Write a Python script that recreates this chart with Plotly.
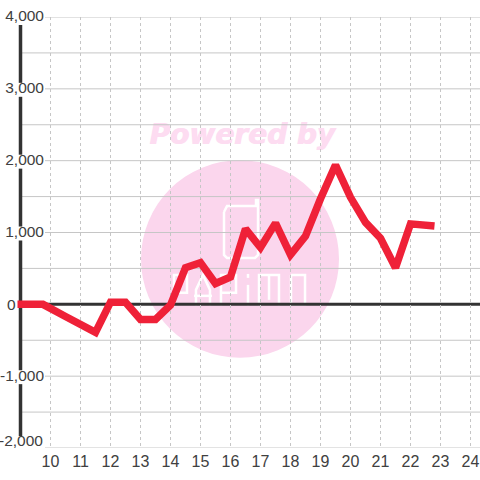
import plotly.graph_objects as go

HOURS = [8.9, 9.75, 10.5, 11.5, 12, 12.5, 13, 13.5, 14, 14.5, 15, 15.5, 16, 16.5, 17, 17.5, 18, 18.5,
         19, 19.5, 20, 20.5, 21, 21.5, 22, 22.5, 22.8]
VALUES = [0, 0, -170, -390, 30, 30, -210, -210, -10, 510, 580, 290, 380, 1050, 790, 1130, 690, 950,
          1470, 1940, 1490, 1140, 920, 510, 1120, 1100, 1090]
X_TICKS = list(range(10, 25))
Y_MAJOR = [4000, 3000, 2000, 1000, 0, -1000, -2000]
Y_TICKS = [4000, 3500, 3000, 2500, 2000, 1500, 1000, 500, 0, -500, -1000, -1500, -2000]
Y_TEXT = ["4,000", "", "3,000", "", "2,000", "", "1,000", "", "", "", "-1,000", "", ""]

W, H, L, T, B = 480, 480, 10, 16.5, 31.5
PW, PH = W - L, H - T - B
PINK = "#fbd6ed"
DARK = "#333333"
TEXT = "#404040"
GRID = "#c6c6c6"


def px(x):
    return (x - L) / PW


def py(y):
    return (H - B - y) / PH


def poly(points):
    return "M" + " L".join(f"{px(a):.4f},{py(b):.4f}" for a, b in points)


shapes = []
# watermark
shapes.append(dict(type="circle", xref="paper", yref="paper", x0=px(141), x1=px(339), y0=py(358), y1=py(160),
                   fillcolor=PINK, line_width=0, layer="below"))
shapes.append(dict(type="rect", xref="paper", yref="paper", x0=px(140), x1=px(344), y0=py(150), y1=py(114),
                   fillcolor="rgba(0,0,0,0)", line_width=0, layer="below",
                   label=dict(text="<b><i>Powered by</i></b>", textposition="middle center",
                              font=dict(family="DejaVu Sans", size=28, color="#fddcf1",
                                        shadow="1px 0 0 #fddcf1"))))
# logo strokes
logo = [
    [(224, 212), (227, 206), (256, 206), (256, 200), (258, 200), (258, 255), (255, 258), (227, 258), (224, 255), (224, 212)],
    [(174, 306), (174, 275), (187, 275), (187, 293), (174, 293)],
    [(196, 306), (196, 290), (203, 275), (210, 290), (210, 306)],
    [(194, 296), (212, 296)],
    [(221, 306), (221, 275), (236, 275), (236, 293), (221, 293)],
    [(248, 285), (248, 306)],
    [(248, 274), (248, 278)],
    [(259, 306), (259, 275), (279, 275), (279, 306)],
    [(269, 275), (269, 300)],
    [(291, 275), (305, 275), (305, 305), (291, 305), (291, 275)],
]
for stroke in logo:
    shapes.append(dict(type="path", xref="paper", yref="paper", path=poly(stroke),
                       line=dict(color="white", width=2.5), layer="below"))
# horizontal grid: minor lines run up to the axis, major lines stop at the labels
for v in Y_TICKS:
    if v == 0:
        continue
    shapes.append(dict(type="line", xref="paper", yref="y", x0=px(45 if v in Y_MAJOR else 21), x1=1, y0=v, y1=v,
                       line=dict(color=GRID, width=1), layer="below"))
# zero line
shapes.append(dict(type="line", xref="paper", yref="y", x0=px(21), x1=1, y0=0, y1=0,
                   line=dict(color=DARK, width=3), layer="below"))
# y axis line, broken by the labels
for top, bottom in [(4000, 3000), (3000, 2000), (2000, 1000), (1000, -1000), (-1000, -2000)]:
    y_hi = top - 111
    y_lo = bottom + (167 if bottom == -2000 else 83)
    shapes.append(dict(type="line", xref="paper", yref="y", x0=px(20.5), x1=px(20.5), y0=y_lo, y1=y_hi,
                       line=dict(color=DARK, width=3.5), layer="below"))

label_font = dict(family="Liberation Sans", size=15.5, color=TEXT)
fig = go.Figure(go.Scatter(x=HOURS, y=VALUES, mode="lines",
                           line=dict(color="#ef2138", width=7.5), hoverinfo="skip"))
fig.update_layout(
    width=W, height=H, margin=dict(l=L, r=0, t=T, b=B),
    paper_bgcolor="white", plot_bgcolor="rgba(0,0,0,0)", showlegend=False, shapes=shapes,
    annotations=[
        dict(text="-2,000", xref="paper", yref="paper", x=px(44.5), y=py(441), xanchor="right",
             yanchor="middle", showarrow=False, font=label_font),
        dict(text="0", xref="paper", yref="paper", x=px(17.5), y=py(304.5), xanchor="right",
             yanchor="middle", showarrow=False, font=label_font),
    ],
    xaxis=dict(range=[10 - (50.5 - L) / 30, 10 + (W - 50.5) / 30], tickvals=X_TICKS, ticktext=[str(v) for v in X_TICKS],
               showgrid=True, gridcolor=GRID, griddash="3px,3px", gridwidth=1, showline=False, zeroline=False,
               ticks="", ticklabelstandoff=2, tickfont=dict(family="Liberation Sans", size=16, color=TEXT)),
    yaxis=dict(range=[-2000, 4000], tickvals=Y_TICKS, ticktext=Y_TEXT, showgrid=False,
               zeroline=False, showline=False, ticks="", ticklabelstandoff=-(45 - L), ticklabelshift=-1,
               tickfont=label_font),
)
fig.write_html("out.html", config=dict(displayModeBar=False),
               post_script="document.body.style.margin='0';document.body.style.overflow='hidden';")
